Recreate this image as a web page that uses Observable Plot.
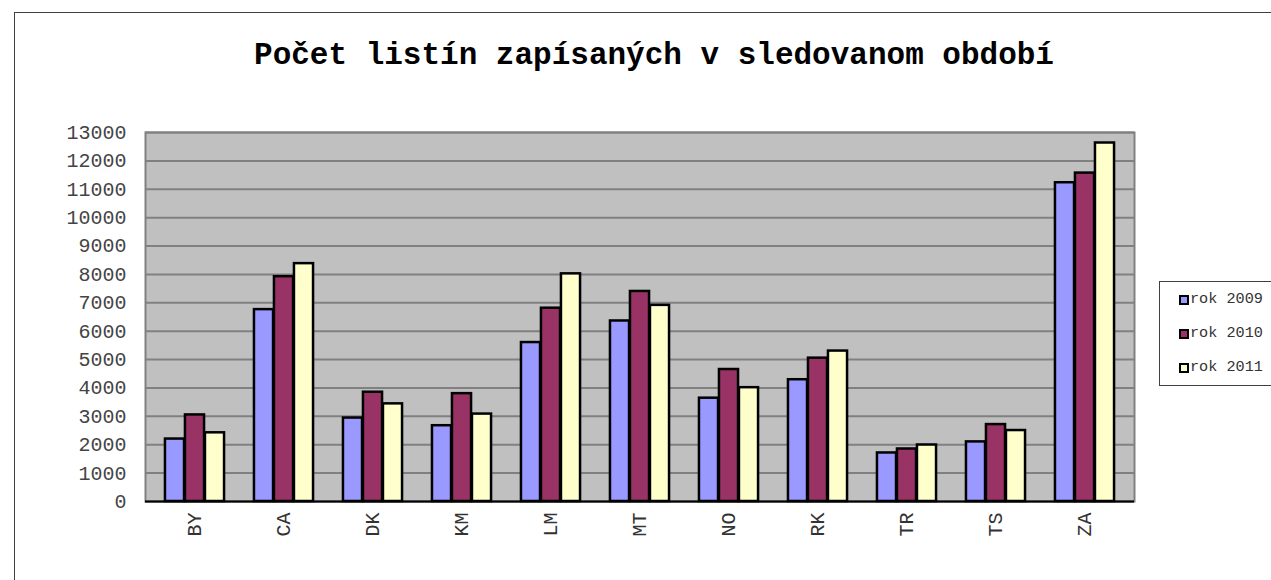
<!DOCTYPE html>
<html>
<head>
<meta charset="utf-8">
<script src="https://cdn.jsdelivr.net/npm/d3@7"></script>
<script src="https://cdn.jsdelivr.net/npm/@observablehq/plot@0.6"></script>
<style>
  html, body { margin: 0; padding: 0; background: #fff; }
  #wrap { position: relative; width: 1271px; height: 580px; overflow: hidden; font-family: "Liberation Mono", "DejaVu Sans Mono", monospace; }
  #outer { position: absolute; left: 14px; top: 12px; width: 1300px; height: 600px; border-left: 1.5px solid #404040; border-top: 1.5px solid #404040; box-sizing: border-box; }
  #title { position: absolute; left: 0; width: 1308px; top: 38px; text-align: center; font-weight: bold; font-size: 31px; color: #000; white-space: nowrap; }
  #chart { position: absolute; left: 0; top: 0; }
  #legend { position: absolute; left: 1159px; top: 281px; width: 130px; height: 105px; border: 1.5px solid #404040; box-sizing: border-box; background: #fff; }
  .item { position: absolute; left: 19px; font-size: 15.2px; color: #333; display: flex; align-items: center; line-height: 1; }
  .sw { width: 6px; height: 6px; border: 2px solid #000; margin-right: 1px; }
</style>
</head>
<body>
<div id="wrap">
  <div id="outer"></div>
  <div id="chart"></div>
  <div id="title"></div>
  <div id="legend"></div>
</div>
<script>
const titleText = "Počet listín zapísaných v sledovanom období";
const categories = ["BY", "CA", "DK", "KM", "LM", "MT", "NO", "RK", "TR", "TS", "ZA"];
const seriesNames = ["rok 2009", "rok 2010", "rok 2011"];
const seriesColors = ["#9999ff", "#993366", "#ffffcc"];
const values2009 = [2200, 6760, 2940, 2670, 5600, 6360, 3640, 4290, 1710, 2100, 11230];
const values2010 = [3050, 7920, 3850, 3800, 6810, 7400, 4650, 5050, 1850, 2710, 11570];
const values2011 = [2420, 8380, 3440, 3080, 8020, 6910, 4010, 5300, 1990, 2500, 12630];
const yTicks = [0, 1000, 2000, 3000, 4000, 5000, 6000, 7000, 8000, 9000, 10000, 11000, 12000, 13000];

const seriesValues = [values2009, values2010, values2011];
const rows = [];
seriesNames.forEach((s, i) => categories.forEach((c, j) => rows.push({cat: c, series: s, si: i, value: seriesValues[i][j]})));

const W = 1271, H = 580;
const mL = 145, mR = 137, mT = 132, mB = 79;
const band = (W - mL - mR) / categories.length;
const barW = 20;
const groupStart = (band - barW * seriesNames.length) / 2;

const barMarks = seriesNames.map((s, i) =>
  Plot.barY(rows.filter(d => d.series === s), {
    x: "cat", y: "value",
    fill: seriesColors[i],
    stroke: "#000", strokeWidth: 2.5,
    insetLeft: groupStart + barW * i,
    insetRight: band - groupStart - barW * (i + 1)
  })
);

const chart = Plot.plot({
  width: W, height: H,
  marginLeft: mL, marginRight: mR, marginTop: mT, marginBottom: mB,
  style: {fontFamily: "Liberation Mono, monospace", background: "transparent", overflow: "visible"},
  x: {domain: categories, padding: 0},
  y: {domain: [0, 13000]},
  marks: [
    Plot.frame({fill: "#c0c0c0"}),
    Plot.gridY(yTicks, {stroke: "#808080", strokeOpacity: 1, strokeWidth: 2}),
    Plot.frame({stroke: "#808080", strokeWidth: 2}),
    ...barMarks,
    Plot.ruleY([0], {stroke: "#000", strokeWidth: 2}),
    Plot.axisY(yTicks, {tickSize: 0, tickPadding: 19, tickFormat: d => String(d), fontSize: 20, fill: "#444", label: null}),
    Plot.axisX({tickSize: 0, tickPadding: 11, tickRotate: -90, fontSize: 20, fill: "#333", label: null})
  ]
});
document.getElementById("chart").appendChild(chart);
document.getElementById("title").textContent = titleText;

const legend = document.getElementById("legend");
const legendTops = [10, 44, 78];
seriesNames.forEach((s, i) => {
  const it = document.createElement("div");
  it.className = "item";
  it.style.top = legendTops[i] + "px";
  const sw = document.createElement("span");
  sw.className = "sw";
  sw.style.background = seriesColors[i];
  const t = document.createElement("span");
  t.textContent = s;
  it.appendChild(sw); it.appendChild(t);
  legend.appendChild(it);
});
</script>
</body>
</html>
